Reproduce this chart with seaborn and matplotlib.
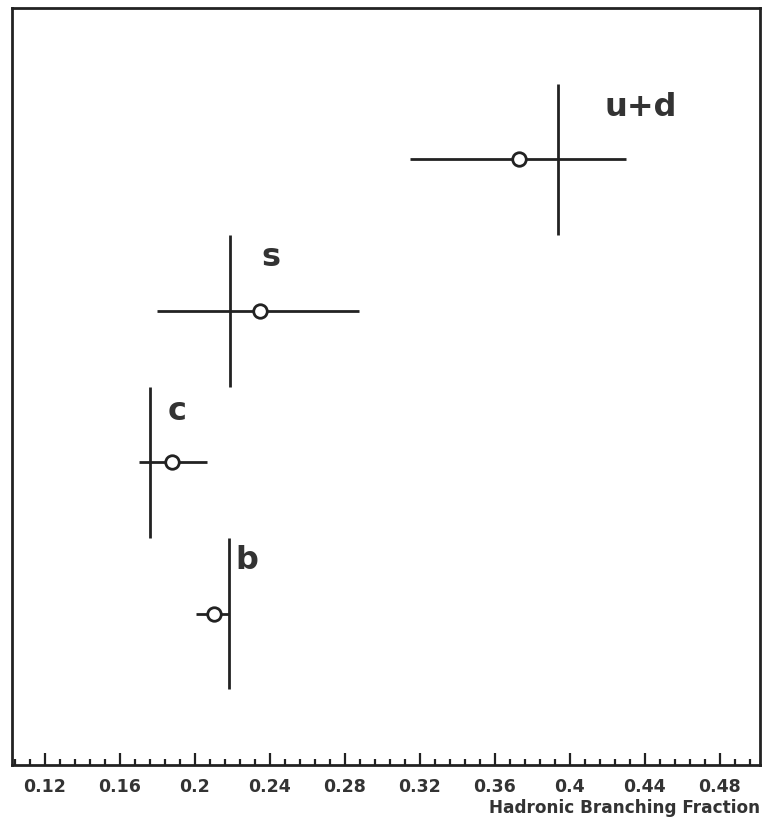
import matplotlib
matplotlib.use("Agg")
import matplotlib.pyplot as plt
import seaborn as sns
import pandas as pd
import numpy as np
from matplotlib.ticker import MultipleLocator, FixedLocator

# ---- data ----
flavours = ["u+d", "s", "c", "b"]
measured = [0.373, 0.235, 0.188, 0.210]
err_lo = [0.315, 0.180, 0.170, 0.2005]
err_hi = [0.430, 0.2875, 0.2065, 0.2185]
sm_value = [0.3935, 0.219, 0.176, 0.2185]
row = [4, 3, 2, 1]
tick_values = [0.12, 0.16, 0.2, 0.24, 0.28, 0.32, 0.36, 0.4, 0.44, 0.48]
tick_labels = ["0.12", "0.16", "0.2", "0.24", "0.28", "0.32", "0.36", "0.4", "0.44", "0.48"]

df = pd.DataFrame({"flavour": flavours, "measured": measured, "lo": err_lo,
                   "hi": err_hi, "sm": sm_value, "row": row})

sns.set_theme(style="white")
plt.rcParams['font.family'] = ['DejaVu Sans']

fig = plt.figure(figsize=(7.62, 8.24), dpi=100)
W, H = 762, 824
ax = fig.add_axes([12 / W, (H - 765) / H, (760 - 12) / W, (765 - 8) / H])

lw = 2.0
ax.hlines(df["row"], df["lo"], df["hi"], color="#222222", lw=lw, zorder=2)
ax.vlines(df["sm"], df["row"] - 0.5, df["row"] + 0.5, color="#222222", lw=lw, zorder=2)
sns.scatterplot(data=df, x="measured", y="row", ax=ax, marker="o", s=95,
                facecolor="white", edgecolor="#222222", linewidth=2, zorder=3, legend=False)

# labels near the SM lines (offsets in pixels from top of SM line)
label_offsets = {"u+d": (47, -32), "s": (31, -31), "c": (18, -33), "b": (6, -31)}
for f, s, r in zip(df["flavour"], df["sm"], df["row"]):
    dx, dy = label_offsets[f]
    ax.annotate(f, xy=(s, r + 0.5), xytext=(dx * 0.72, dy * 0.72), textcoords="offset points",
                fontsize=23, fontweight="bold", color="#333333", ha="left", va="baseline")

ax.set_xlim(0.1025, 0.5015)
ax.set_ylim(0, 5)
ax.set_yticks([])
ax.set_ylabel("")
ax.xaxis.set_major_locator(FixedLocator(tick_values))
ax.set_xticklabels(tick_labels, fontsize=12.5, fontweight="bold", color="#333333")
ax.xaxis.set_minor_locator(MultipleLocator(0.008))
ax.tick_params(axis="x", which="major", direction="in", length=9, width=1.6, color="#222222", pad=9, bottom=True)
ax.tick_params(axis="x", which="minor", direction="in", length=4.5, width=1.6, color="#222222", bottom=True)
for sp in ax.spines.values():
    sp.set_color("#222222")
    sp.set_linewidth(2)
ax.set_xlabel("")
fig.text(760 / W, 1 - 808 / H, "Hadronic Branching Fraction", ha="right", va="center",
         fontsize=12.2, fontweight="bold", color="#333333")

fig.savefig("out.png", dpi=100)
